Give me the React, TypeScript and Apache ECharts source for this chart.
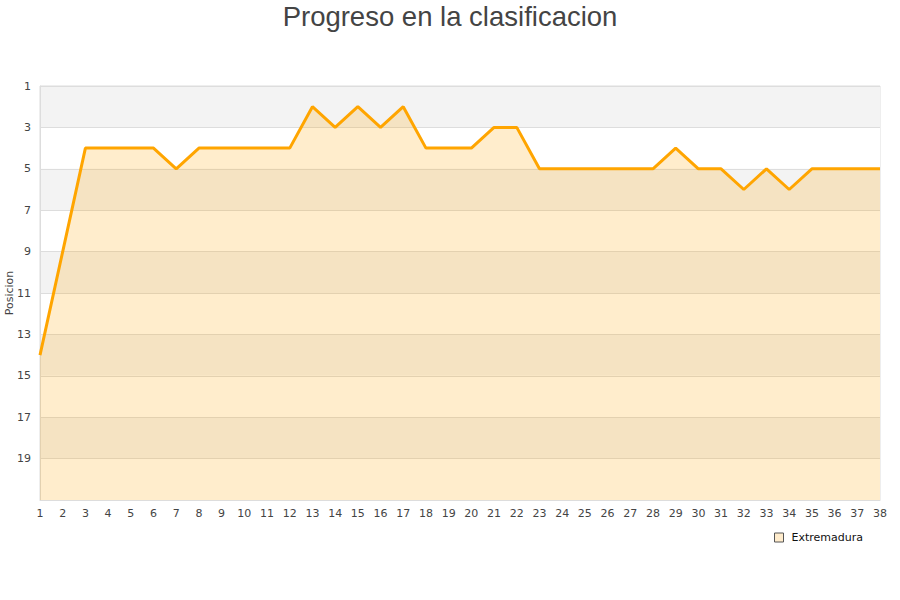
import React, { useEffect, useRef } from "react";
import * as echarts from "echarts";

const jornadas = Array.from({ length: 38 }, (_, i) => String(i + 1));
const posiciones = [14, 9, 4, 4, 4, 4, 5, 4, 4, 4, 4, 4, 2, 3, 2, 3, 2, 4, 4, 4, 3, 3, 5, 5, 5, 5, 5, 5, 4, 5, 5, 6, 5, 6, 5, 5, 5, 5];
const serieNombre = "Extremadura";
const titulo = "Progreso en la clasificacion";
const ejeY = "Posicion";

export default function App() {
  const ref = useRef<HTMLDivElement>(null);
  useEffect(() => {
    const chart = echarts.init(ref.current!, null, { renderer: "svg" });
    chart.setOption({
      animation: false,
      title: {
        text: titulo,
        left: "center",
        top: 2,
        padding: 0,
        textStyle: { fontFamily: "Liberation Sans", fontSize: 27.5, fontWeight: "normal", color: "#444" },
      },
      grid: {
        left: 40,
        right: 20,
        top: 86,
        bottom: 100,
        show: true,
        borderColor: "#ddd",
        borderWidth: 1,
        containLabel: false,
        outerBoundsMode: "none",
      },
      legend: {
        data: [{ name: serieNombre, icon: "rect" }],
        left: 769,
        top: 527,
        itemWidth: 9,
        itemHeight: 9,
        itemGap: 10,
        textStyle: { fontFamily: "DejaVu Sans", fontSize: 11, color: "#111", padding: [0, 0, 0, 3] },
        itemStyle: { color: "#ffeccc", borderColor: "#555", borderWidth: 1 },
      },
      graphic: [
        {
          type: "text",
          x: 4,
          y: 293,
          rotation: Math.PI / 2,
          style: {
            text: ejeY,
            fontFamily: "DejaVu Sans",
            fontSize: 11,
            fill: "#444",
            align: "center",
            verticalAlign: "top",
          },
        },
      ],
      xAxis: {
        type: "category",
        data: jornadas,
        boundaryGap: false,
        axisLine: { lineStyle: { color: "#ddd" } },
        axisTick: { show: false },
        axisLabel: { fontFamily: "DejaVu Sans", fontSize: 11, color: "#444", margin: 8, interval: 0 },
        splitLine: { show: false },
      },
      yAxis: {
        type: "value",
        inverse: true,
        min: 1,
        max: 21,
        interval: 2,
        axisLine: { show: true, lineStyle: { color: "#ddd" } },
        axisTick: { show: false },
        axisLabel: {
          fontFamily: "DejaVu Sans",
          fontSize: 11,
          color: "#444",
          margin: 9,
          formatter: (v: number) => (v === 21 ? "" : String(v)),
        },
        splitLine: { show: true, lineStyle: { color: "#ddd" } },
        splitArea: { show: true, areaStyle: { color: ["#f3f3f3", "#ffffff"] } },
      },
      series: [
        {
          name: serieNombre,
          type: "line",
          data: posiciones,
          symbol: "none",
          lineStyle: { color: "#ffa500", width: 3 },
          itemStyle: { color: "#ffa500" },
          areaStyle: { color: "#ffa500", opacity: 0.2, origin: "end" },
        },
      ],
    });
    return () => chart.dispose();
  }, []);
  return <div ref={ref} style={{ position: "absolute", left: 0, top: 0, width: 900, height: 600 }} />;
}
